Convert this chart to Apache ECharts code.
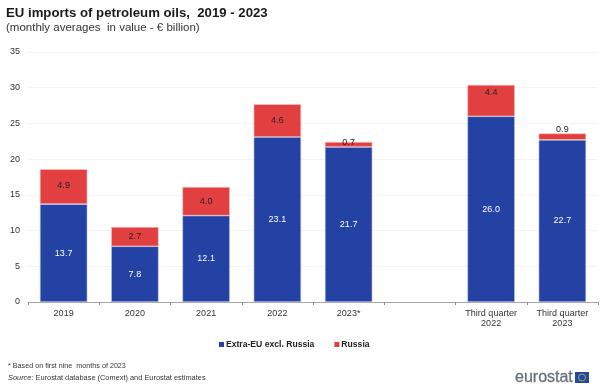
<!DOCTYPE html>
<html><head><meta charset="utf-8">
<style>html,body{margin:0;padding:0;background:#fff}#c{width:607px;height:387px}</style>
<script src="https://cdn.jsdelivr.net/npm/echarts@6/dist/echarts.min.js"></script>
</head><body><div id="c"></div>
<script>
const categories = ['2019','2020','2021','2022','2023*','','Third quarter\n2022','Third quarter\n2023'];
const extraEU = [13.7,7.8,12.1,23.1,21.7,null,26.0,22.7];
const russia = [4.9,2.7,4.0,4.6,0.7,null,4.4,0.9];
const font = 'Liberation Sans';
const chart = echarts.init(document.getElementById('c'),null,{renderer:'canvas'});
const nudge = i => ({0:-1,4:-2,6:-8,7:-7}[i] || 0);
chart.setOption({
 animation:false,
 textStyle:{fontFamily:font},
 title:[
  {text:'EU imports of petroleum oils,  2019 - 2023',left:6,top:7,padding:0,textStyle:{fontSize:13.2,fontWeight:'bold',color:'#1a1a1a',fontFamily:font}},
  {text:'(monthly averages  in value - € billion)',left:6,top:22,padding:0,textStyle:{fontSize:11.5,fontWeight:'normal',color:'#333',fontFamily:font}},
  {text:'* Based on first nine  months of 2023',left:8,top:363,padding:0,textStyle:{fontSize:7.2,fontWeight:'normal',color:'#333',fontFamily:font}},
  {text:'{i|Source:} Eurostat database (Comext) and Eurostat estimates',left:8,top:374,padding:0,textStyle:{fontSize:7.4,fontWeight:'normal',color:'#333',fontFamily:font,rich:{i:{fontStyle:'italic',fontSize:7.4,color:'#333',fontFamily:font}}}}
 ],
 legend:{left:214,top:335,itemWidth:5,itemHeight:5,itemGap:20,icon:'rect',
  data:[{name:'Extra-EU excl. Russia',itemStyle:{borderWidth:0}},{name:'Russia',itemStyle:{borderWidth:0}}],
  textStyle:{fontSize:8.6,fontWeight:'bold',color:'#222',fontFamily:font,padding:[0,0,0,-3]}},
 grid:{left:28,right:9,top:52,bottom:85},
 xAxis:{type:'category',data:categories,
  axisLine:{lineStyle:{color:'#a6a6a6'}},
  axisTick:{show:true,length:3,lineStyle:{color:'#8c8c8c'}},
  axisLabel:{fontSize:9,color:'#333',margin:6,lineHeight:10.5,interval:0,fontFamily:font}},
 yAxis:{type:'value',min:0,max:35,interval:5,
  axisLine:{show:false},axisTick:{show:false},
  splitLine:{lineStyle:{color:'#f3f3f3'}},
  axisLabel:{fontSize:9,color:'#333',margin:8,fontFamily:font}},
 series:[
  {name:'Extra-EU excl. Russia',type:'bar',stack:'t',data:extraEU,barWidth:'66.6%',
   itemStyle:{color:'#2441a4',borderColor:'#c5cdee',borderWidth:0.6},
   label:{show:true,position:'inside',formatter:p=>p.value.toFixed(1),fontSize:9,color:'#fff',fontFamily:font}},
  {name:'Russia',type:'bar',stack:'t',data:russia,barWidth:'66.6%',
   itemStyle:{color:'#e24040',borderColor:'#f5c6c6',borderWidth:0.6},
   label:{show:true,formatter:p=>p.value.toFixed(1),fontSize:9,color:'#222',fontFamily:font,position:'inside'},
   labelLayout:p=>({dy:nudge(p.dataIndex)})
  }
 ],
 graphic:[
  {type:'text',x:515,y:370,style:{text:'eurostat',font:'16px "Liberation Sans"',fill:'#66727f',stroke:'#66727f',lineWidth:0.3}},
  {type:'rect',shape:{x:575,y:372,width:14,height:11},style:{fill:'#1f4aa0'}},
  {type:'circle',shape:{cx:582,cy:377.5,r:3.5},style:{fill:'none',stroke:'#c9b84e',lineWidth:0.8}}
 ]
});
</script></body></html>
